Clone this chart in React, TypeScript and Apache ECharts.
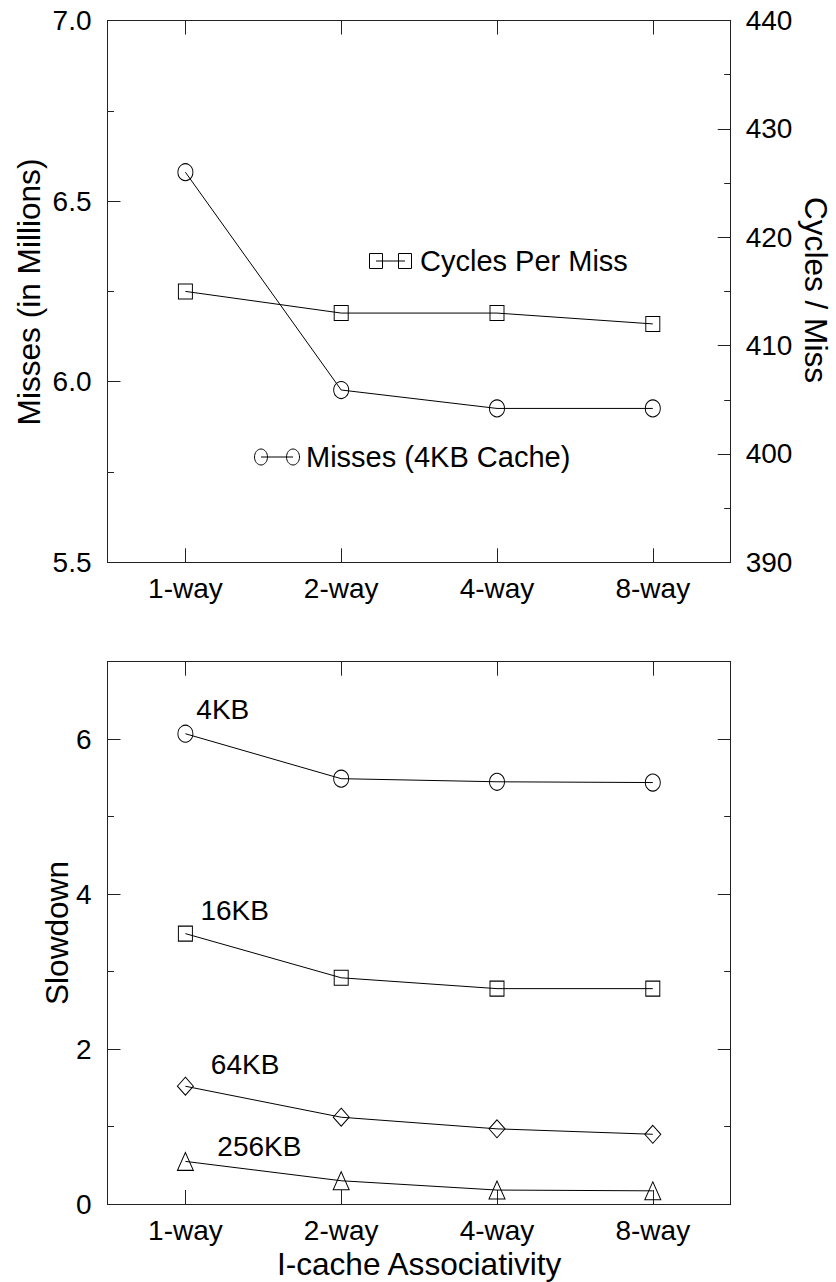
import React, { useEffect, useRef } from "react";
import * as echarts from "echarts";

const categories = ["1-way", "2-way", "4-way", "8-way"];

// Top chart
const missesValues = [6.58, 5.977, 5.926, 5.926]; // Misses (4KB Cache), in millions (left axis)
const cyclesValues = [415, 413, 413, 412]; // Cycles Per Miss (right axis)

// Bottom chart: slowdown per cache size
const slow4KB = [6.07, 5.49, 5.45, 5.44];
const slow16KB = [3.49, 2.92, 2.78, 2.78];
const slow64KB = [1.52, 1.12, 0.97, 0.9];
const slow256KB = [0.55, 0.3, 0.18, 0.17];

const FONT = "'Liberation Sans', Arial, Helvetica, sans-serif";
const FS = 28;
const NAME_FS = 31.6;
const LEG_FS = 29;
const AX = "#222";

function App() {
  const ref = useRef<HTMLDivElement | null>(null);

  useEffect(() => {
    if (!ref.current) return;
    const chart = echarts.init(ref.current, undefined, { renderer: "svg" });

    const gridA = { left: 107.5, top: 20.5, width: 623.2, height: 541.8 };
    const gridB = { left: 107.5, top: 661.7, width: 623.2, height: 542.3 };

    const axisLine = { show: true, onZero: false, lineStyle: { color: AX, width: 1 } };
    const label = { fontSize: FS, fontFamily: FONT, color: "#000" };
    const nameStyle = { fontSize: NAME_FS, fontFamily: FONT, color: "#000" };

    const catAxis = (gridIndex: number, position: string, showLabel: boolean, extra: any = {}) => ({
      type: "category",
      gridIndex,
      position,
      data: categories,
      boundaryGap: true,
      axisLine,
      axisTick: { show: true, inside: true, alignWithLabel: true, length: 14, lineStyle: { color: AX } },
      axisLabel: { show: showLabel, margin: 12, ...label },
      splitLine: { show: false },
      ...extra,
    });

    const valAxis = (gridIndex: number, position: string, opts: any) => ({
      type: "value",
      gridIndex,
      position,
      axisLine,
      splitLine: { show: false },
      ...opts,
    });

    const lineSeries = (name: string, xi: number, yi: number, values: number[], symbol: string, size: number[], lbl?: any) => ({
      type: "line",
      name,
      xAxisIndex: xi,
      yAxisIndex: yi,
      symbol,
      symbolSize: size,
      showSymbol: true,
      lineStyle: { color: "#000", width: 1 },
      itemStyle: { color: "rgba(0,0,0,0)", borderColor: "#000", borderWidth: 1 },
      emphasis: { disabled: true },
      data: values.map((v, i) =>
        i === 0 && lbl
          ? {
              value: v,
              label: {
                show: true,
                position: "right",
                distance: 0,
                formatter: "{a}",
                fontSize: FS,
                fontFamily: FONT,
                color: "#000",
                offset: lbl,
              },
            }
          : v
      ),
    });

    const axisTitle = (text: string, x: number, y: number, rotation: number) => ({
      type: "text",
      x,
      y,
      rotation,
      style: { text, fontSize: NAME_FS, fontFamily: FONT, fill: "#000", align: "center", verticalAlign: "middle" },
    });

    const option: any = {
      animation: false,
      backgroundColor: "#fff",
      textStyle: { fontFamily: FONT },
      grid: [gridA, gridB],
      xAxis: [
        catAxis(0, "bottom", true),
        catAxis(0, "top", false),
        catAxis(1, "bottom", true, {
          name: "I-cache Associativity",
          nameLocation: "middle",
          nameGap: 44,
          nameTextStyle: nameStyle,
        }),
        catAxis(1, "top", false),
      ],
      yAxis: [
        valAxis(0, "left", {
          min: 5.5,
          max: 7.0,
          interval: 0.5,
          axisTick: { show: true, inside: true, length: 13, lineStyle: { color: AX } },
          minorTick: { show: true, splitNumber: 2, length: 6.5, lineStyle: { color: AX } },
          axisLabel: { margin: 16, formatter: (v: number) => v.toFixed(1), ...label },
        }),
        valAxis(0, "right", {
          min: 390,
          max: 440,
          interval: 10,
          axisTick: { show: true, inside: true, length: 13, lineStyle: { color: AX } },
          minorTick: { show: true, splitNumber: 2, length: 6.5, lineStyle: { color: AX } },
          axisLabel: { margin: 15, ...label },
        }),
        valAxis(1, "left", {
          min: 0,
          max: 7,
          interval: 2,
          axisTick: { show: true, inside: true, length: 13, lineStyle: { color: AX } },
          axisLabel: { margin: 16, formatter: (v: number) => (v === 7 ? "" : String(v)), ...label },
        }),
        valAxis(1, "left", {
          min: 0,
          max: 7,
          interval: 1,
          axisLine: { show: false },
          axisTick: { show: true, inside: true, length: 6.5, lineStyle: { color: AX } },
          axisLabel: { show: false },
        }),
        valAxis(1, "right", {
          min: 0,
          max: 7,
          interval: 2,
          axisTick: { show: true, inside: true, length: 13, lineStyle: { color: AX } },
          axisLabel: { show: false },
        }),
        valAxis(1, "right", {
          min: 0,
          max: 7,
          interval: 1,
          axisLine: { show: false },
          axisTick: { show: true, inside: true, length: 6.5, lineStyle: { color: AX } },
          axisLabel: { show: false },
        }),
      ],
      series: [
        lineSeries("Misses (4KB Cache)", 0, 0, missesValues, "circle", [15, 17]),
        lineSeries("Cycles Per Miss", 0, 1, cyclesValues, "rect", [14, 15]),
        lineSeries("4KB", 2, 2, slow4KB, "circle", [15, 17], [3, -24.5]),
        lineSeries("16KB", 2, 2, slow16KB, "rect", [14, 15], [7.5, -23.5]),
        lineSeries("64KB", 2, 2, slow64KB, "diamond", [16, 18], [17, -21.7]),
        lineSeries("256KB", 2, 2, slow256KB, "triangle", [16, 18], [23.5, -15]),
      ],
      graphic: [
        // axis titles
        axisTitle("Misses (in Millions)", 28.5, 292, Math.PI / 2),
        axisTitle("Cycles / Miss", 815.5, 290, -Math.PI / 2),
        axisTitle("Slowdown", 57, 933, Math.PI / 2),
        // legend: Cycles Per Miss
        { type: "line", shape: { x1: 376, y1: 261, x2: 405, y2: 261 }, style: { stroke: "#000", lineWidth: 1 } },
        { type: "rect", shape: { x: 369.5, y: 253.5, width: 13, height: 15 }, style: { fill: "none", stroke: "#000", lineWidth: 1 } },
        { type: "rect", shape: { x: 398.5, y: 253.5, width: 13, height: 15 }, style: { fill: "none", stroke: "#000", lineWidth: 1 } },
        {
          type: "text",
          x: 420,
          y: 261,
          style: { text: "Cycles Per Miss", fontSize: LEG_FS, fontFamily: FONT, fill: "#000", verticalAlign: "middle", align: "left" },
        },
        // legend: Misses (4KB Cache)
        { type: "line", shape: { x1: 261, y1: 457, x2: 293, y2: 457 }, style: { stroke: "#000", lineWidth: 1 } },
        { type: "ellipse", shape: { cx: 261, cy: 457, rx: 6.5, ry: 8 }, style: { fill: "none", stroke: "#000", lineWidth: 1 } },
        { type: "ellipse", shape: { cx: 293, cy: 457, rx: 6.5, ry: 8 }, style: { fill: "none", stroke: "#000", lineWidth: 1 } },
        {
          type: "text",
          x: 306,
          y: 457,
          style: { text: "Misses (4KB Cache)", fontSize: LEG_FS, fontFamily: FONT, fill: "#000", verticalAlign: "middle", align: "left" },
        },
      ],
    };

    chart.setOption(option);
    return () => chart.dispose();
  }, []);

  return (
    <div
      ref={ref}
      style={{ position: "absolute", left: 0, top: 0, width: 836, height: 1282, background: "#fff" }}
    />
  );
}

export default App;
